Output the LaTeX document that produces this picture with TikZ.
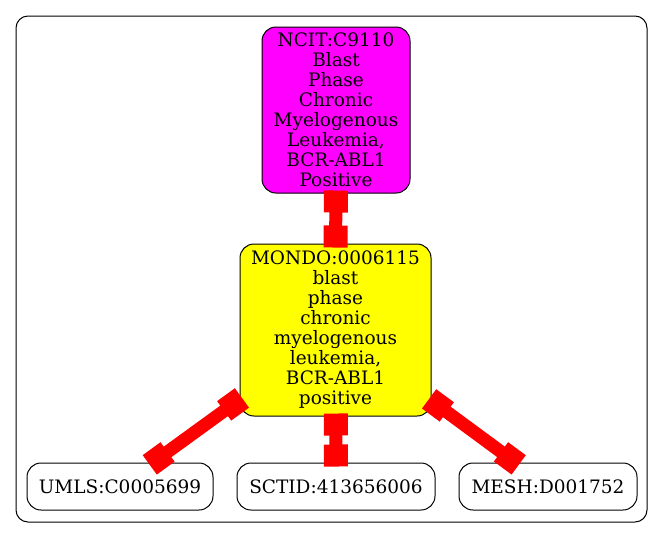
\documentclass[tikz,border=0pt]{standalone}
\usepackage{fontspec}
\setmainfont{DejaVu Serif}
\usetikzlibrary{arrows.meta}
\definecolor{gmagenta}{RGB}{255,0,255}
\definecolor{gyellow}{RGB}{255,255,0}
\definecolor{gred}{RGB}{255,0,0}
\begin{document}
\begin{tikzpicture}[x=1pt,y=-1pt,
  gnode/.style={draw=black, line width=1pt, rounded corners=14pt, inner sep=0pt,
    align=center, font=\fontsize{18.5}{20}\selectfont},
  gedge/.style={draw=gred, line width=13pt,
    {Square[length=22pt,width=24pt]}-{Square[length=22pt,width=24pt]},
    shorten <=-3pt, shorten >=-4pt}]
\useasboundingbox[fill=white] (0,0) rectangle (664,539);
\draw[line width=1pt, rounded corners=12pt] (16,16) rectangle (647,522);
\node[gnode, fill=gmagenta, minimum width=148pt, minimum height=166pt]
  (ncit) at (336,110) {NCIT:C9110\\Blast\\Phase\\Chronic\\Myelogenous\\Leukemia,\\BCR-ABL1\\Positive};
\node[gnode, fill=gyellow, minimum width=191pt, minimum height=172pt]
  (mondo) at (335.5,330) {MONDO:0006115\\blast\\phase\\chronic\\myelogenous\\leukemia,\\BCR-ABL1\\positive};
\node[gnode, minimum width=186pt, minimum height=47pt] (umls) at (120,486.5) {UMLS:C0005699};
\node[gnode, minimum width=198pt, minimum height=47pt] (sctid) at (336,486.5) {SCTID:413656006};
\node[gnode, minimum width=178pt, minimum height=47pt] (mesh) at (548,486.5) {MESH:D001752};
\draw[gedge] (ncit) -- (mondo);
\draw[gedge] (mondo) -- (umls);
\draw[gedge] (mondo) -- (sctid);
\draw[gedge] (mondo) -- (mesh);
\end{tikzpicture}
\end{document}
